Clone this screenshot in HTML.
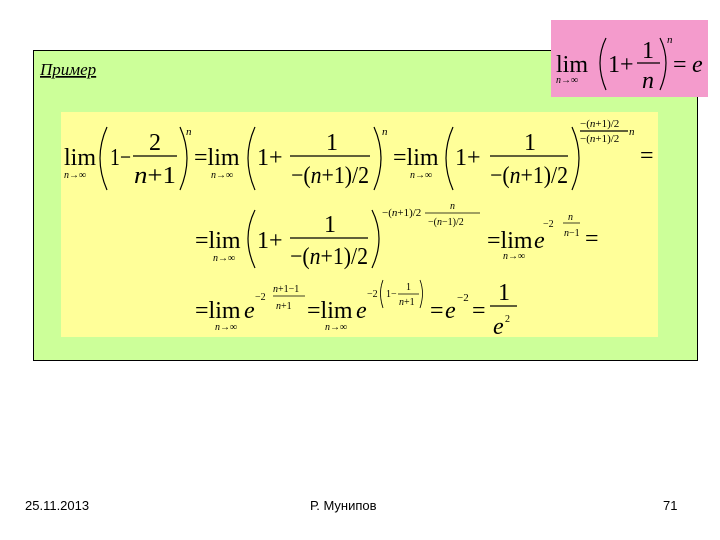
<!DOCTYPE html>
<html><head><meta charset="utf-8"><style>
html,body{margin:0;padding:0;background:#fff;width:720px;height:540px;overflow:hidden}
svg{display:block}
.s{font-family:"Liberation Serif",serif;fill:#000}
.i{font-style:italic}
.f{font-family:"Liberation Sans",sans-serif;font-size:13px;fill:#000}
</style></head><body>
<svg width="720" height="540" viewBox="0 0 720 540" xmlns="http://www.w3.org/2000/svg">
<rect x="33.5" y="50.5" width="664" height="310" fill="#ccff99" stroke="#000" stroke-width="1"/>
<rect x="61" y="112" width="597" height="225" fill="#ffff99"/>
<rect x="551" y="20" width="157" height="77" fill="#f49bcc"/>
<text x="40" y="75" class="s i" font-size="17" text-decoration="underline">Пример</text>
<g stroke="#000" stroke-width="1.2" fill="none">
<path d="M606 38 Q594 62 606 90"/><path d="M660 38 Q672 62 660 90"/>
<line x1="637" y1="63" x2="660" y2="63"/>
<path d="M107 127 Q93 158 107 190"/><path d="M180 127 Q194 158 180 190"/>
<line x1="133" y1="156" x2="177" y2="156"/>
<path d="M255 127 Q241 158 255 190"/><path d="M374 127 Q388 158 374 190"/>
<line x1="290" y1="156" x2="370" y2="156"/>
<path d="M453 127 Q439 158 453 190"/><path d="M572 127 Q586 158 572 190"/>
<line x1="490" y1="156" x2="568" y2="156"/>
<line x1="580" y1="131" x2="628" y2="131"/>
<path d="M255 210 Q241 238 255 268"/><path d="M372 210 Q386 238 372 268"/>
<line x1="290" y1="238" x2="368" y2="238"/>
<line x1="425" y1="213" x2="480" y2="213" stroke-width="0.8"/>
<line x1="563" y1="223" x2="580" y2="223" stroke-width="0.8"/>
<line x1="273" y1="296" x2="305" y2="296" stroke-width="0.8"/>
<path d="M383 280 Q378 293 383 308" stroke-width="0.8"/><path d="M420 280 Q425 293 420 308" stroke-width="0.8"/>
<line x1="398" y1="294" x2="419" y2="294" stroke-width="0.8"/>
<line x1="490" y1="306" x2="517" y2="306"/>
</g>
<text class="s" font-size="24" x="556" y="72">lim</text>
<text class="s i" font-size="10" x="556" y="83">n→∞</text>
<text class="s" font-size="24" x="608" y="72">1+</text>
<text class="s" font-size="24" x="642" y="58">1</text>
<text class="s i" font-size="24" x="642" y="88">n</text>
<text class="s i" font-size="11" x="667" y="43">n</text>
<text class="s" font-size="24" x="673" y="72">=</text>
<text class="s i" font-size="24" x="692" y="72">e</text>
<text class="s" font-size="24" x="64" y="165">lim</text>
<text class="s i" font-size="10" x="64" y="178">n→∞</text>
<text class="s" font-size="24" x="110" y="165" textLength="21" lengthAdjust="spacingAndGlyphs">1−</text>
<text class="s" font-size="24" x="149" y="150">2</text>
<text class="s" font-size="24" x="134" y="183" textLength="42" lengthAdjust="spacingAndGlyphs"><tspan class="i">n</tspan>+1</text>
<text class="s i" font-size="11" x="186" y="135">n</text>
<text class="s" font-size="24" x="194" y="165">=lim</text>
<text class="s i" font-size="10" x="211" y="178">n→∞</text>
<text class="s" font-size="24" x="257" y="165">1+</text>
<text class="s" font-size="24" x="326" y="150">1</text>
<text class="s" font-size="24" x="291" y="183" textLength="78" lengthAdjust="spacingAndGlyphs">−(<tspan class="i">n</tspan>+1)/2</text>
<text class="s i" font-size="11" x="382" y="135">n</text>
<text class="s" font-size="24" x="393" y="165">=lim</text>
<text class="s i" font-size="10" x="410" y="178">n→∞</text>
<text class="s" font-size="24" x="455" y="165">1+</text>
<text class="s" font-size="24" x="524" y="150">1</text>
<text class="s" font-size="24" x="490" y="183" textLength="78" lengthAdjust="spacingAndGlyphs">−(<tspan class="i">n</tspan>+1)/2</text>
<text class="s" font-size="11" x="580" y="127">−(<tspan class="i">n</tspan>+1)/2</text>
<text class="s" font-size="11" x="580" y="142">−(<tspan class="i">n</tspan>+1)/2</text>
<text class="s i" font-size="11" x="629" y="135">n</text>
<text class="s" font-size="24" x="640" y="163">=</text>
<text class="s" font-size="24" x="195" y="248">=lim</text>
<text class="s i" font-size="10" x="213" y="261">n→∞</text>
<text class="s" font-size="24" x="257" y="248">1+</text>
<text class="s" font-size="24" x="324" y="232">1</text>
<text class="s" font-size="24" x="290" y="264" textLength="78" lengthAdjust="spacingAndGlyphs">−(<tspan class="i">n</tspan>+1)/2</text>
<text class="s" font-size="11" x="382" y="216">−(<tspan class="i">n</tspan>+1)/2</text>
<text class="s i" font-size="10" x="450" y="209">n</text>
<text class="s" font-size="10" x="428" y="225">−(<tspan class="i">n</tspan>−1)/2</text>
<text class="s" font-size="24" x="487" y="248">=lim</text>
<text class="s i" font-size="24" x="534" y="248">e</text>
<text class="s i" font-size="10" x="503" y="259">n→∞</text>
<text class="s" font-size="10" x="543" y="227">−2</text>
<text class="s i" font-size="10" x="568" y="220">n</text>
<text class="s" font-size="10" x="564" y="236"><tspan class="i">n</tspan>−1</text>
<text class="s" font-size="24" x="585" y="246">=</text>
<text class="s" font-size="24" x="195" y="318">=lim</text>
<text class="s i" font-size="24" x="244" y="318">e</text>
<text class="s i" font-size="10" x="215" y="330">n→∞</text>
<text class="s" font-size="10" x="255" y="300">−2</text>
<text class="s" font-size="10" x="273" y="292"><tspan class="i">n</tspan>+1−1</text>
<text class="s" font-size="10" x="276" y="309"><tspan class="i">n</tspan>+1</text>
<text class="s" font-size="24" x="307" y="318">=lim</text>
<text class="s i" font-size="24" x="356" y="318">e</text>
<text class="s i" font-size="10" x="325" y="330">n→∞</text>
<text class="s" font-size="10" x="367" y="297">−2</text>
<text class="s" font-size="10" x="386" y="297">1−</text>
<text class="s" font-size="10" x="406" y="290">1</text>
<text class="s" font-size="10" x="399" y="305"><tspan class="i">n</tspan>+1</text>
<text class="s" font-size="24" x="430" y="318">=</text>
<text class="s i" font-size="24" x="445" y="318">e</text>
<text class="s" font-size="11" x="457" y="301">−2</text>
<text class="s" font-size="24" x="472" y="318">=</text>
<text class="s" font-size="24" x="498" y="300">1</text>
<text class="s i" font-size="24" x="493" y="334">e</text>
<text class="s" font-size="10" x="505" y="322">2</text>
<text class="f" x="25" y="510">25.11.2013</text>
<text class="f" x="310" y="510">Р. Мунипов</text>
<text class="f" x="663" y="510">71</text>
</svg>
</body></html>
